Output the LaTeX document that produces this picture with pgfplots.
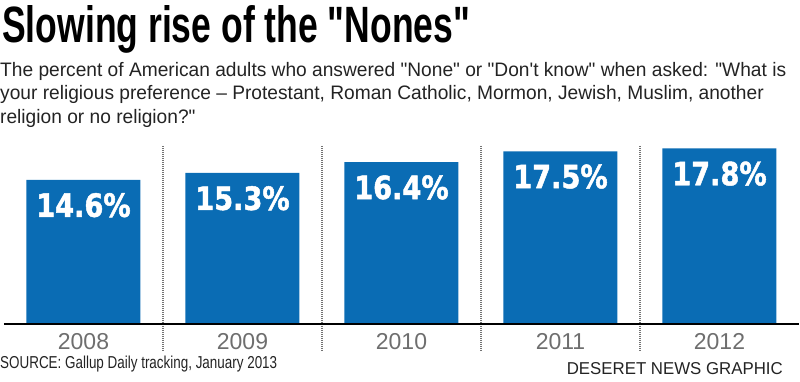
\documentclass[border=0pt]{standalone}
\usepackage{pgfplots}
\pgfplotsset{compat=1.18}
\usepackage{fontspec}
\setmainfont{Liberation Sans}[Ligatures=TeXOff]
\newfontfamily\valfont[FakeStretch=0.85,FakeBold=1.5]{DejaVu Sans}
\definecolor{barblue}{RGB}{10,108,180}
\definecolor{sepgray}{RGB}{115,115,115}
\definecolor{yeargray}{RGB}{110,110,110}
\definecolor{srcgray}{RGB}{35,35,35}
\newsavebox\subbox
\begin{document}
\sbox\subbox{\fontsize{19.5}{20}\selectfont The percent of American adults who answered "None" or "Don't know" when asked: "What is}%
\pgfmathsetmacro\subsx{786/\the\wd\subbox}%
\begin{tikzpicture}[x=1pt,y=1pt]
\path[use as bounding box] (0,0) rectangle (800,381);
% title
\node[anchor=base west, inner sep=0] at (2,339) {\resizebox{468pt}{37pt}{\bfseries Slowing rise of the "Nones"}};
% subtitle
\node[anchor=base west, inner sep=0, text=srcgray] at (0,304) {\scalebox{\subsx}[1]{\fontsize{19.5}{20}\selectfont The percent of American adults who answered "None" or "Don't know" when asked: "What is}};
\node[anchor=base west, inner sep=0, text=srcgray] at (0,281) {\scalebox{\subsx}[1]{\fontsize{19.5}{20}\selectfont your religious preference – Protestant, Roman Catholic, Mormon, Jewish, Muslim, another}};
\node[anchor=base west, inner sep=0, text=srcgray] at (0,258) {\scalebox{\subsx}[1]{\fontsize{19.5}{20}\selectfont religion or no religion?"}};
\begin{axis}[
  at={(2.5,58)}, anchor=south west,
  scale only axis, width=795pt, height=197.2pt,
  xmin=-0.5, xmax=4.5, ymin=0, ymax=20,
  axis line style={draw=none},
  ytick=\empty,
  xtick={0,1,2,3,4},
  xticklabels={2008,2009,2010,2011,2012},
  major tick length=0pt,
  xticklabel style={anchor=base, yshift=-26pt, text=yeargray, font=\fontsize{23}{23}\selectfont},
  clip=false,
  ybar, bar width=114pt,
  /pgf/number format/assume math mode=true,
  nodes near coords={\pgfmathprintnumber[fixed,precision=1,fixed zerofill]{\pgfplotspointmeta}\%},
  every node near coord/.append style={anchor=north, yshift=-13pt, inner sep=0pt, text=white, font=\valfont\bfseries\fontsize{32}{32}\selectfont},
]
\addplot[fill=barblue, draw=none] coordinates {(0,14.6) (1,15.3) (2,16.4) (3,17.5) (4,17.8)};
\draw[sepgray, line width=2.4pt, dash pattern=on 1pt off 1pt] (axis cs:0.5,18.05) -- (axis cs:0.5,-2.74);
\draw[sepgray, line width=2.4pt, dash pattern=on 1pt off 1pt] (axis cs:1.5,18.05) -- (axis cs:1.5,-2.74);
\draw[sepgray, line width=2.4pt, dash pattern=on 1pt off 1pt] (axis cs:2.5,18.05) -- (axis cs:2.5,-2.74);
\draw[sepgray, line width=2.4pt, dash pattern=on 1pt off 1pt] (axis cs:3.5,18.05) -- (axis cs:3.5,-2.74);
\draw[black, line width=2pt] (axis cs:-0.5,0) -- (axis cs:4.5,0);
\end{axis}
\node[anchor=base west, inner sep=0, text=srcgray] at (0,13) {\resizebox{277pt}{12.5pt}{SOURCE: Gallup Daily tracking, January 2013}};
\node[anchor=base east, inner sep=0, text=srcgray] at (783,7) {\resizebox{216pt}{12pt}{DESERET NEWS GRAPHIC}};
\end{tikzpicture}
\end{document}
